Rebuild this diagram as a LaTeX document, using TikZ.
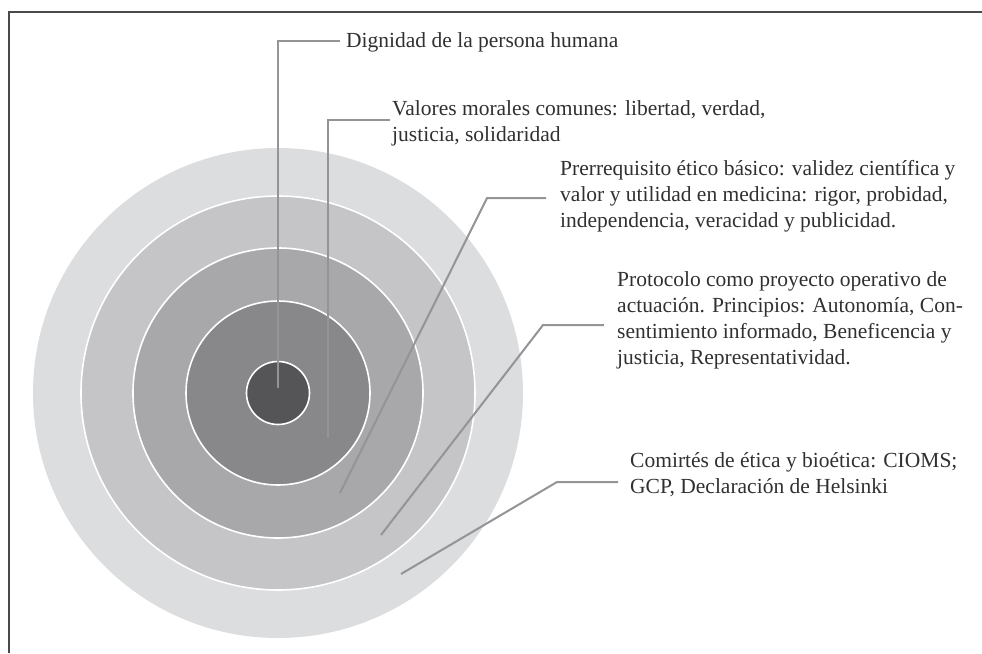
\documentclass[tikz,border=0pt]{standalone}
\usepackage{fontspec}
\setmainfont{Liberation Serif}
\definecolor{ringA}{HTML}{DCDDDE}
\definecolor{ringB}{HTML}{C5C5C7}
\definecolor{ringC}{HTML}{A8A8AA}
\definecolor{ringD}{HTML}{88888A}
\definecolor{ringE}{HTML}{555557}
\definecolor{leadc}{HTML}{949496}
\definecolor{framec}{HTML}{4A4A4A}
\definecolor{txtc}{HTML}{303030}
\begin{document}
\begin{tikzpicture}[x=1pt,y=-1pt,
  ring/.style={circle, draw=white, line width=1.6pt, inner sep=0pt, outer sep=0pt},
  leader/.style={draw=leadc, line width=2pt},
  label/.style={anchor=base west, inner sep=0pt, align=left, text=txtc,
    font=\fontsize{21.5}{26}\selectfont},
  framestyle/.style={draw=framec, line width=1.8pt}]
\useasboundingbox (0,0) rectangle (982,653);
% frame
\coordinate (fa) at (9,653);
\coordinate (fb) at (9,12);
\coordinate (fc) at (982,12);
\draw[framestyle] (fa) -- (fb) -- (fc);
% rings
\node[ring, fill=ringA, draw=none, minimum size=490pt] (c1) at (278,393) {};
\node[ring, fill=ringB, minimum size=394pt] (c2) at (278,393) {};
\node[ring, fill=ringC, minimum size=290pt] (c3) at (278,393) {};
\node[ring, fill=ringD, minimum size=184pt] (c4) at (278,393) {};
\node[ring, fill=ringE, minimum size=63pt] (c5) at (278,393) {};
% labels (base = baseline of the last line)
\node[label] (t1) at (346,47.5) {Dignidad de la persona humana};
\node[label] (t2) at (392,141) {Valores morales comunes: libertad, verdad,\\justicia, solidaridad};
\node[label] (t3) at (560,227) {Prerrequisito ético básico: validez científica y\\valor y utilidad en medicina: rigor, probidad,\\independencia, veracidad y publicidad.};
\node[label] (t4) at (617,364) {Protocolo como proyecto operativo de\\actuación. Principios: Autonomía, Con-\\sentimiento informado, Beneficencia y\\justicia, Representatividad.};
\node[label] (t5) at (630,493) {Comirtés de ética y bioética: CIOMS;\\GCP, Declaración de Helsinki};
% leader points
\coordinate (p1) at (278,388);
\coordinate (k1) at (278,41);
\coordinate (e1) at (340,41);
\coordinate (p2) at (328,438);
\coordinate (k2) at (328,120);
\coordinate (e2) at (390,120);
\coordinate (p3) at (340,493);
\coordinate (k3) at (487,198);
\coordinate (e3) at (546,198);
\coordinate (p4) at (381,535);
\coordinate (k4) at (543,325);
\coordinate (e4) at (604,325);
\coordinate (p5) at (401,574);
\coordinate (k5) at (557,482);
\coordinate (e5) at (618,482);
\draw[leader] (p1) -- (k1) -- (e1);
\draw[leader] (p2) -- (k2) -- (e2);
\draw[leader] (p3) -- (k3) -- (e3);
\draw[leader] (p4) -- (k4) -- (e4);
\draw[leader] (p5) -- (k5) -- (e5);
\end{tikzpicture}
\end{document}
